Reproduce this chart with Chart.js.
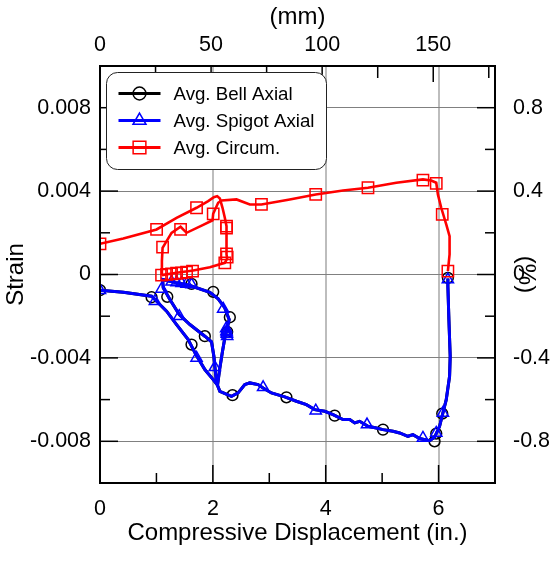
<!DOCTYPE html>
<html><head><meta charset="utf-8">
<script src="https://cdn.jsdelivr.net/npm/chart.js@4/dist/chart.umd.min.js"></script>
<style>html,body{margin:0;padding:0;background:#fff}</style>
</head><body>
<canvas id="c" width="556" height="561"></canvas>
<script>
// ---------- data (inches, strain) ----------
const seriesNames = ['Avg. Bell Axial', 'Avg. Spigot Axial', 'Avg. Circum.'];

// Spigot axial path
const spigotPathX = [0, 0.413, 0.914, 1.003, 1.180, 1.357, 1.563, 1.699, 1.858, 2.006, 2.083,
  2.124, 2.171, 2.212, 2.242,
  2.289, 2.212, 2.094, 1.947, 1.593, 1.357, 1.109,
  1.121, 1.239, 1.404, 1.593, 1.858, 1.976, 2.018, 2.035, 2.065, 2.124, 2.330, 2.448, 2.566, 2.655,
  2.802, 2.891, 3.038, 3.274, 3.481, 3.658, 3.805, 3.982, 4.130, 4.307, 4.425, 4.513, 4.602, 4.749,
  4.897, 5.015, 5.192, 5.310, 5.457, 5.546, 5.664, 5.841, 5.929, 6.018, 6.077, 6.136, 6.195, 6.206,
  6.183, 6.165, 6.165];
const spigotPathY = [-0.00075, -0.00085, -0.00104, -0.00128, -0.00176, -0.0024, -0.00312, -0.00384, -0.00456, -0.00504, -0.00531,
  -0.00448, -0.00368, -0.00304, -0.00272,
  -0.00216, -0.0016, -0.00117, -0.00085, -0.00053, -0.0004, -0.00024,
  -0.00064, -0.0012, -0.00192, -0.0024, -0.00296, -0.00323, -0.00392, -0.0044, -0.0052, -0.0056, -0.00584, -0.00568, -0.00528, -0.0052,
  -0.00528, -0.00544, -0.00568, -0.00587, -0.00608, -0.00624, -0.00648, -0.00656, -0.00672, -0.00696, -0.00696, -0.00712, -0.00704, -0.00728,
  -0.00736, -0.00744, -0.00752, -0.0076, -0.00776, -0.00768, -0.00787, -0.00797, -0.00781, -0.00728, -0.00664, -0.006, -0.00488, -0.00392,
  -0.00216, -0.00056, -0.00019];
const spigotMarkX = [0, 0.973, 1.091, 1.404, 1.711, 2.035, 2.183, 2.236, 2.242, 2.248, 2.254, 2.245,
  1.268, 1.357, 1.445, 1.534, 1.622, 2.891, 3.823, 4.732, 5.723, 5.959, 6.077, 6.165];
const spigotMarkY = [-0.00075, -0.00128, -0.00069, -0.002, -0.004, -0.00445, -0.00165, -0.00259, -0.00272, -0.00285, -0.00296, -0.00278,
  -0.00035, -0.00038, -0.00042, -0.00045, -0.00048, -0.00541, -0.00653, -0.0072, -0.00784, -0.0076, -0.00664, -0.00024];

// Bell axial: its line lies under the spigot line in the picture
const bellPathX = spigotPathX;
const bellPathY = spigotPathY;
const bellMarkX = [0, 0.914, 1.192, 1.622, 1.858, 1.622, 2.006, 2.301, 2.254, 2.348, 3.304, 4.159, 5.015, 5.929, 5.959, 6.065, 6.165];
const bellMarkY = [-0.00075, -0.00109, -0.00107, -0.00336, -0.00296, -0.00045, -0.00083, -0.00205, -0.00275, -0.00579, -0.00589, -0.00677, -0.00744, -0.008, -0.00763, -0.00667, -0.00016];

// Circumferential path
const circumPathX = [0, 0.413, 1.003, 1.357, 1.711, 1.917, 2.018, 2.077, 2.124, 2.171, 2.212, 2.242, 2.242, 2.242, 2.254, 2.212,
  1.947, 1.652, 1.357, 1.091,
  1.097, 1.109, 1.268, 1.428, 1.534, 1.829, 1.994, 2.006, 2.094, 2.153, 2.419, 2.655, 2.861, 3.363, 3.823, 4.307, 4.749,
  5.251, 5.723, 5.870, 5.959, 5.988, 6.047, 6.136, 6.195, 6.195, 6.165];
const circumPathY = [0.00147, 0.00173, 0.00216, 0.00272, 0.0032, 0.00352, 0.00371, 0.00376, 0.00365, 0.0032, 0.00272, 0.00232, 0.0016, 0.00096, 0.00077, 0.00056,
  0.00035, 0.00019, 0.00008, -0.00003,
  0.00064, 0.00128, 0.002, 0.00229, 0.002, 0.00238, 0.0026, 0.00291, 0.00344, 0.00355, 0.0036, 0.00336, 0.00336, 0.0036, 0.00384, 0.00403, 0.00416,
  0.0044, 0.00456, 0.00451, 0.0044, 0.00384, 0.0032, 0.0024, 0.00184, 0.00096, 0.00016];
const circumMarkX = [0, 1.003, 1.711, 2.242, 2.242, 2.242, 2.254, 2.212,
  1.091, 1.180, 1.268, 1.357, 1.445, 1.534, 1.640,
  1.109, 1.428, 2.006, 2.861, 3.823, 4.749, 5.723, 5.959, 6.065, 6.165];
const circumMarkY = [0.00147, 0.00216, 0.0032, 0.00232, 0.00222, 0.00099, 0.00083, 0.00056,
  -0.00003, 0.00001, 0.00003, 0.00006, 0.00008, 0.00011, 0.00016,
  0.00131, 0.00216, 0.00291, 0.00336, 0.00384, 0.00416, 0.00453, 0.00437, 0.00288, 0.00016];

// axes
const xTicksIn = [0, 2, 4, 6];
const xTicksMm = [0, 50, 100, 150];
const yTicks = [-0.008, -0.004, 0, 0.004, 0.008];
const yTickLabels = ['-0.008', '-0.004', '0', '0.004', '0.008'];
const pctTicks = [-0.8, -0.4, 0, 0.4, 0.8];
const pctTickLabels = ['-0.8', '-0.4', '0', '0.4', '0.8'];

// ---------- chart ----------
Chart.defaults.font.family = "'Liberation Sans', Arial, sans-serif";
Chart.defaults.color = '#000';
const pts = (xs, ys) => xs.map((x, i) => ({x: x, y: ys[i]}));
const TICK_FONT = {size: 21.5};
const TITLE_FONT = {size: 24};
const COLORS = ['#000000', '#0000ff', '#ff0000'];
const STYLES = ['circle', 'triangle', 'rect'];
const RADII = [5.4, 6.5, 8];

function drawMarker(ctx, style, x, y, r) {
  ctx.beginPath();
  if (style === 'circle') {
    ctx.arc(x, y, r, 0, Math.PI * 2);
  } else if (style === 'triangle') {
    for (let k = 0; k < 3; k++) {
      const a = k * 2 * Math.PI / 3;
      const px = x + Math.sin(a) * r, py = y - Math.cos(a) * r;
      if (k === 0) ctx.moveTo(px, py); else ctx.lineTo(px, py);
    }
    ctx.closePath();
  } else {
    const s = r * Math.SQRT1_2;
    ctx.rect(x - s, y - s, 2 * s, 2 * s);
  }
  ctx.stroke();
}

const frame = {
  id: 'frame',
  afterDraw(chart) {
    const {ctx, chartArea: a, scales} = chart;
    ctx.save();
    ctx.strokeStyle = '#000';
    ctx.lineWidth = 1.5;
    const seg = (x1, y1, x2, y2) => { ctx.beginPath(); ctx.moveTo(x1, y1); ctx.lineTo(x2, y2); ctx.stroke(); };
    for (let v = 1; v < 7; v++) {
      const px = scales.x.getPixelForValue(v);
      seg(px, a.bottom, px, a.bottom - (v % 2 === 0 ? 18 : 10));
    }
    for (let mm = 25; mm < 177; mm += 25) {
      const px = scales.x2.getPixelForValue(mm);
      seg(px, a.top, px, a.top + (mm % 50 === 0 ? 16 : 12));
    }
    for (let k = -4; k <= 4; k++) {
      const py = scales.y.getPixelForValue(k * 0.002);
      const L = (k % 2 === 0) ? 18 : 10;
      seg(a.left, py, a.left + L, py);
      seg(a.right, py, a.right - L, py);
    }
    ctx.lineWidth = 2;
    ctx.strokeRect(a.left, a.top, a.right - a.left, a.bottom - a.top);

    // legend
    const lx = a.left + 6.5, ly = a.top + 6.5, lw = 220, lh = 97;
    ctx.beginPath();
    ctx.roundRect(lx, ly, lw, lh, 11);
    ctx.fillStyle = '#fff';
    ctx.fill();
    ctx.lineWidth = 1;
    ctx.strokeStyle = '#222';
    ctx.stroke();
    ctx.font = "18.7px 'Liberation Sans', Arial, sans-serif";
    ctx.textBaseline = 'middle';
    ctx.textAlign = 'left';
    for (let i = 0; i < 3; i++) {
      const y = ly + 21 + 27 * i;
      ctx.strokeStyle = COLORS[i];
      ctx.lineWidth = 3;
      seg(lx + 12, y, lx + 54, y);
      ctx.lineWidth = 1.5;
      drawMarker(ctx, STYLES[i], lx + 33, y, RADII[i] + 1);
      ctx.fillStyle = '#000';
      ctx.fillText(seriesNames[i], lx + 67, y + 1);
    }
    ctx.restore();
  }
};

const lineDs = (xs, ys, color, w, order) => ({
  data: pts(xs, ys), showLine: true, borderColor: color, borderWidth: w,
  pointRadius: 0, tension: 0, order: order, xAxisID: 'x', yAxisID: 'y'
});
const markDs = (xs, ys, i, order) => ({
  data: pts(xs, ys), showLine: false, pointStyle: STYLES[i], pointRadius: RADII[i],
  pointBorderColor: COLORS[i], pointBackgroundColor: 'rgba(0,0,0,0)', pointBorderWidth: 1.5,
  order: order, xAxisID: 'x', yAxisID: 'y'
});

new Chart(document.getElementById('c'), {
  type: 'scatter',
  data: {
    datasets: [
      lineDs(bellPathX, bellPathY, COLORS[0], 3, 6),
      markDs(bellMarkX, bellMarkY, 0, 5),
      lineDs(spigotPathX, spigotPathY, COLORS[1], 3, 4),
      markDs(spigotMarkX, spigotMarkY, 1, 3),
      lineDs(circumPathX, circumPathY, COLORS[2], 2.6, 2),
      markDs(circumMarkX, circumMarkY, 2, 1)
    ]
  },
  options: {
    responsive: false, animation: false, devicePixelRatio: 1,
    layout: {padding: 0},
    plugins: {legend: {display: false}, tooltip: {enabled: false}},
    scales: {
      x: {
        type: 'linear', position: 'bottom', min: 0, max: 7,
        afterBuildTicks: s => { s.ticks = xTicksIn.map(v => ({value: v})); },
        afterFit: s => { s.height = 78; },
        ticks: {font: TICK_FONT, padding: 13, maxRotation: 0, autoSkip: false, callback: v => String(v)},
        grid: {drawTicks: false, lineWidth: 2, color: c => (c.tick && c.tick.value > 0) ? '#bdbdbd' : 'rgba(0,0,0,0)'},
        border: {display: false},
        title: {display: true, text: 'Compressive Displacement (in.)', font: TITLE_FONT, padding: {top: 0, bottom: 13}}
      },
      x2: {
        type: 'linear', position: 'top', min: 0, max: 177.8,
        afterBuildTicks: s => { s.ticks = xTicksMm.map(v => ({value: v})); },
        afterFit: s => { s.height = 66; },
        ticks: {font: TICK_FONT, padding: 8, maxRotation: 0, autoSkip: false, callback: v => String(v)},
        grid: {display: false, drawTicks: false},
        border: {display: false},
        title: {display: true, text: '(mm)', font: TITLE_FONT, padding: {top: 3, bottom: 0}}
      },
      y: {
        type: 'linear', position: 'left', min: -0.01, max: 0.01,
        afterBuildTicks: s => { s.ticks = yTicks.map(v => ({value: v})); },
        afterFit: s => { s.width = 100; },
        ticks: {font: TICK_FONT, padding: 9, autoSkip: false, callback: (v, i) => yTickLabels[i]},
        grid: {drawTicks: false, lineWidth: 1, color: c => (c.tick && Math.abs(c.tick.value) < 0.009) ? '#808080' : 'rgba(0,0,0,0)'},
        border: {display: false},
        title: {display: true, text: 'Strain', font: TITLE_FONT, padding: {top: 1.5, bottom: 0}}
      },
      y2: {
        type: 'linear', position: 'right', min: -1, max: 1,
        afterBuildTicks: s => { s.ticks = pctTicks.map(v => ({value: v})); },
        afterFit: s => { s.width = 61; },
        ticks: {font: TICK_FONT, padding: 18, autoSkip: false, callback: (v, i) => pctTickLabels[i]},
        grid: {display: false, drawTicks: false},
        border: {display: false},
        title: {display: true, text: '(%)', font: TITLE_FONT, padding: {top: 16, bottom: 0}}
      }
    }
  },
  plugins: [frame]
});
</script>
</body></html>
